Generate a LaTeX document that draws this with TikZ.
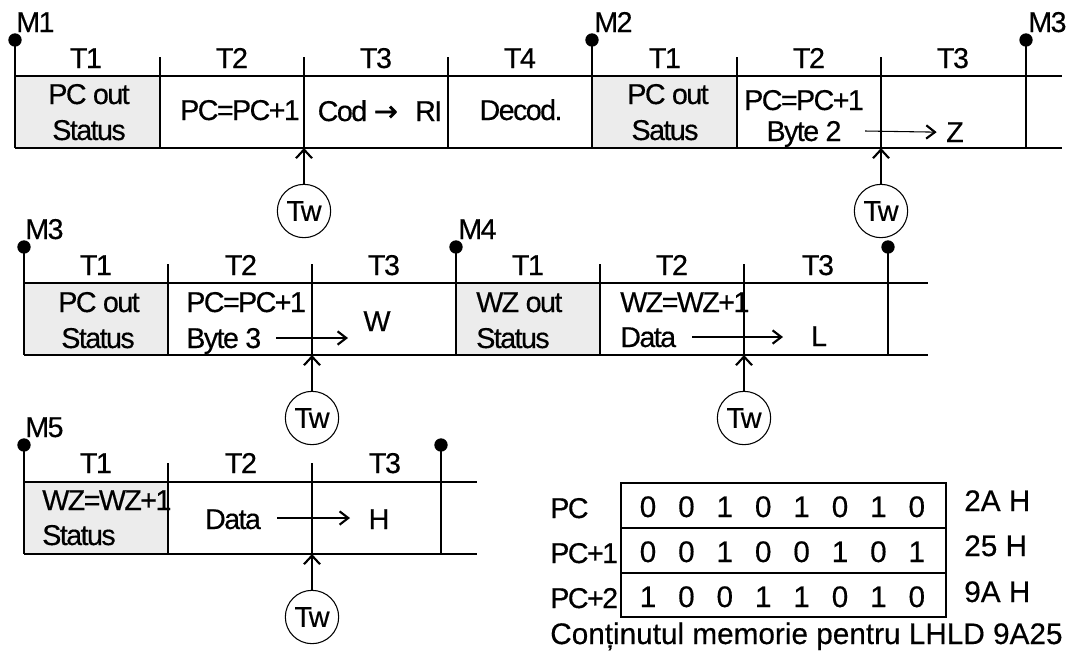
\documentclass[tikz,border=0pt]{standalone}
\usepackage{fontspec}
\setmainfont{Liberation Sans}
\newfontfamily\cellfont[LetterSpace=-5.5,FakeBold=0.4]{Liberation Sans}
\newfontfamily\tabfont[FakeBold=0.4]{Liberation Sans}
\newfontfamily\arrowfont[FakeBold=1.5]{DejaVu Sans}
\usetikzlibrary{arrows.meta}
\definecolor{cellgray}{RGB}{236,236,236}
\tikzset{
  txt/.style={font=\fontsize{21.5pt}{24pt}\cellfont, inner sep=0pt, anchor=base},
  txtl/.style={txt, anchor=base west},
  tabtxt/.style={font=\fontsize{22.3pt}{26pt}\tabfont, inner sep=0pt, anchor=base},
  tabtxtl/.style={tabtxt, anchor=base west},
  gridline/.style={line width=1.5pt},
  twline/.style={line width=2.2pt},
  mdot/.style={circle, fill=black, inner sep=0pt, minimum size=10pt},
  twnode/.style={circle, draw, line width=0.8pt, minimum size=40pt, inner sep=0pt, font=\fontsize{21.5pt}{24pt}\cellfont},
  twarrow/.style={line width=0.8pt, -{Straight Barb[length=6.5pt,width=12pt,line width=1.6pt]}},
  darrow/.style={line width=0.8pt, -{Straight Barb[length=6.5pt,width=10pt,line width=1.6pt]}},
  grayfill/.style={fill=cellgray},
  tabline/.style={line width=1.5pt},
}
\begin{document}
\begin{tikzpicture}[x=0.75pt,y=-0.75pt]
\useasboundingbox (0,0) rectangle (1073,651);

% ================= Row 1 =================
\fill[grayfill] (15,76) rectangle (160,148);
\fill[grayfill] (592,76) rectangle (737,148);
\draw[gridline] (15,76) -- (1062,76);
\draw[gridline] (15,148) -- (1062,148);
\draw[gridline] (15,40) -- (15,148);
\draw[gridline] (592,40) -- (592,148);
\draw[gridline] (1026,40) -- (1026,148);
\draw[gridline] (160,57) -- (160,148);
\draw[gridline] (448,57) -- (448,148);
\draw[gridline] (737,57) -- (737,148);
\draw[twline] (304,57) -- (304,148);
\draw[twline] (881,57) -- (881,148);
\node[mdot] (r1d1) at (15,40) {};
\node[mdot] (r1d2) at (592,40) {};
\node[mdot] (r1d3) at (1026,40) {};
\node[txtl] (r1m1) at (16,32) {M1};
\node[txtl] (r1m2) at (594,32) {M2};
\node[txtl] (r1m3) at (1028,32) {M3};
\node[txt] (r1t1) at (86,68) {T1};
\node[txt] (r1t2) at (232,68) {T2};
\node[txt] (r1t3) at (376,68) {T3};
\node[txt] (r1t4) at (520,68) {T4};
\node[txt] (r1t5) at (665,68) {T1};
\node[txt] (r1t6) at (809,68) {T2};
\node[txt] (r1t7) at (953,68) {T3};
\node[txt] (r1a1) at (89,104) {PC out};
\node[txt] (r1a2) at (89,140) {Status};
\node[txt] (r1b) at (240,120) {PC=PC+1};
\node[txt] (r1c) at (380,121) {Cod\hspace{5pt}{\arrowfont →}\hspace{13pt}RI};
\node[txt] (r1d) at (521,120) {Decod.};
\node[txt] (r1e1) at (668,104) {PC out};
\node[txt] (r1e2) at (665,140) {Satus};
\node[txt] (r1f1) at (804,110) {PC=PC+1};
\node[txt] (r1f2) at (804,141) {Byte 2};
\node[txt] (r1z) at (955,142) {Z};
\coordinate (r1as) at (865,131);
\draw[darrow] (r1as) -- ([xshift=-7pt]r1z.west);
\node[twnode] (tw1) at (304,211) {Tw};
\coordinate (tw1t) at (304,148);
\draw[twarrow] (tw1) -- (tw1t);
\node[twnode] (tw2) at (881,211) {Tw};
\coordinate (tw2t) at (881,148);
\draw[twarrow] (tw2) -- (tw2t);

% ================= Row 2 =================
\fill[grayfill] (24,283) rectangle (168,355);
\fill[grayfill] (456,283) rectangle (600,355);
\draw[gridline] (24,283) -- (928,283);
\draw[gridline] (24,355) -- (928,355);
\draw[gridline] (24,247) -- (24,355);
\draw[gridline] (456,247) -- (456,355);
\draw[gridline] (888,247) -- (888,355);
\draw[gridline] (168,264) -- (168,355);
\draw[gridline] (600,264) -- (600,355);
\draw[twline] (312,264) -- (312,355);
\draw[twline] (744,264) -- (744,355);
\node[mdot] (r2d1) at (24,247) {};
\node[mdot] (r2d2) at (456,247) {};
\node[mdot] (r2d3) at (888,247) {};
\node[txtl] (r2m3) at (25,239) {M3};
\node[txtl] (r2m4) at (458,239) {M4};
\node[txt] (r2t1) at (96,275) {T1};
\node[txt] (r2t2) at (241,275) {T2};
\node[txt] (r2t3) at (384,275) {T3};
\node[txt] (r2t4) at (528,275) {T1};
\node[txt] (r2t5) at (672,275) {T2};
\node[txt] (r2t6) at (818,275) {T3};
\node[txt] (r2a1) at (99,312) {PC out};
\node[txt] (r2a2) at (98,348) {Status};
\node[txtl] (r2b1) at (186,312) {PC=PC+1};
\node[txtl] (r2b2) at (186,348) {Byte 3};
\node[txt] (r2w) at (377,331) {W};
\node[txtl] (r2c1) at (476,312) {WZ out};
\node[txtl] (r2c2) at (476,348) {Status};
\node[txtl] (r2e1) at (620,312) {WZ=WZ+1};
\node[txtl] (r2e2) at (620,347) {Data};
\node[txt] (r2l) at (819,346) {L};
\coordinate (r2as) at (276,338);
\coordinate (r2ae) at (348,338);
\draw[darrow] (r2as) -- (r2ae);
\coordinate (r2bs) at (692,337);
\coordinate (r2be) at (783,337);
\draw[darrow] (r2bs) -- (r2be);
\node[twnode] (tw3) at (312,418) {Tw};
\coordinate (tw3t) at (312,355);
\draw[twarrow] (tw3) -- (tw3t);
\node[twnode] (tw4) at (744,418) {Tw};
\coordinate (tw4t) at (744,355);
\draw[twarrow] (tw4) -- (tw4t);

% ================= Row 3 =================
\fill[grayfill] (24,482) rectangle (168,554);
\draw[gridline] (24,482) -- (477,482);
\draw[gridline] (24,554) -- (477,554);
\draw[gridline] (24,445) -- (24,554);
\draw[gridline] (441,445) -- (441,554);
\draw[gridline] (168,463) -- (168,554);
\draw[twline] (312,463) -- (312,554);
\node[mdot] (r3d1) at (24,445) {};
\node[mdot] (r3d2) at (441,445) {};
\node[txtl] (r3m5) at (25,437) {M5};
\node[txt] (r3t1) at (96,473) {T1};
\node[txt] (r3t2) at (241,473) {T2};
\node[txt] (r3t3) at (385,473) {T3};
\node[txtl] (r3a1) at (42,510) {WZ=WZ+1};
\node[txtl] (r3a2) at (42,545) {Status};
\node[txt] (r3b) at (233,529) {Data};
\node[txt] (r3h) at (379,529) {H};
\coordinate (r3as) at (277,518);
\coordinate (r3ae) at (350,518);
\draw[darrow] (r3as) -- (r3ae);
\node[twnode] (tw5) at (312,617) {Tw};
\coordinate (tw5t) at (312,554);
\draw[twarrow] (tw5) -- (tw5t);

% ================= Memory table =================
\draw[tabline] (621,483) rectangle (946,617);
\draw[tabline] (621,528) -- (946,528);
\draw[tabline] (621,573) -- (946,573);
\node[txtl] (pc0) at (550,518) {PC};
\node[txtl] (pc1) at (550,563) {PC+1};
\node[txtl] (pc2) at (550,608) {PC+2};
\foreach \b [count=\i from 0] in {0,0,1,0,1,0,1,0}
  \node[tabtxt] (ba\i) at ({648+38.4*\i},517) {\b};
\foreach \b [count=\i from 0] in {0,0,1,0,0,1,0,1}
  \node[tabtxt] (bb\i) at ({648+38.4*\i},562) {\b};
\foreach \b [count=\i from 0] in {1,0,0,1,1,0,1,0}
  \node[tabtxt] (bc\i) at ({648+38.4*\i},607) {\b};
\node[tabtxtl] (hx0) at (964,511) {2A H};
\node[tabtxtl] (hx1) at (964,556) {25 H};
\node[tabtxtl] (hx2) at (964,602) {9A H};
\node[tabtxtl] (cap) at (550,644) {Conținutul memorie pentru LHLD 9A25};
\end{tikzpicture}
\end{document}
